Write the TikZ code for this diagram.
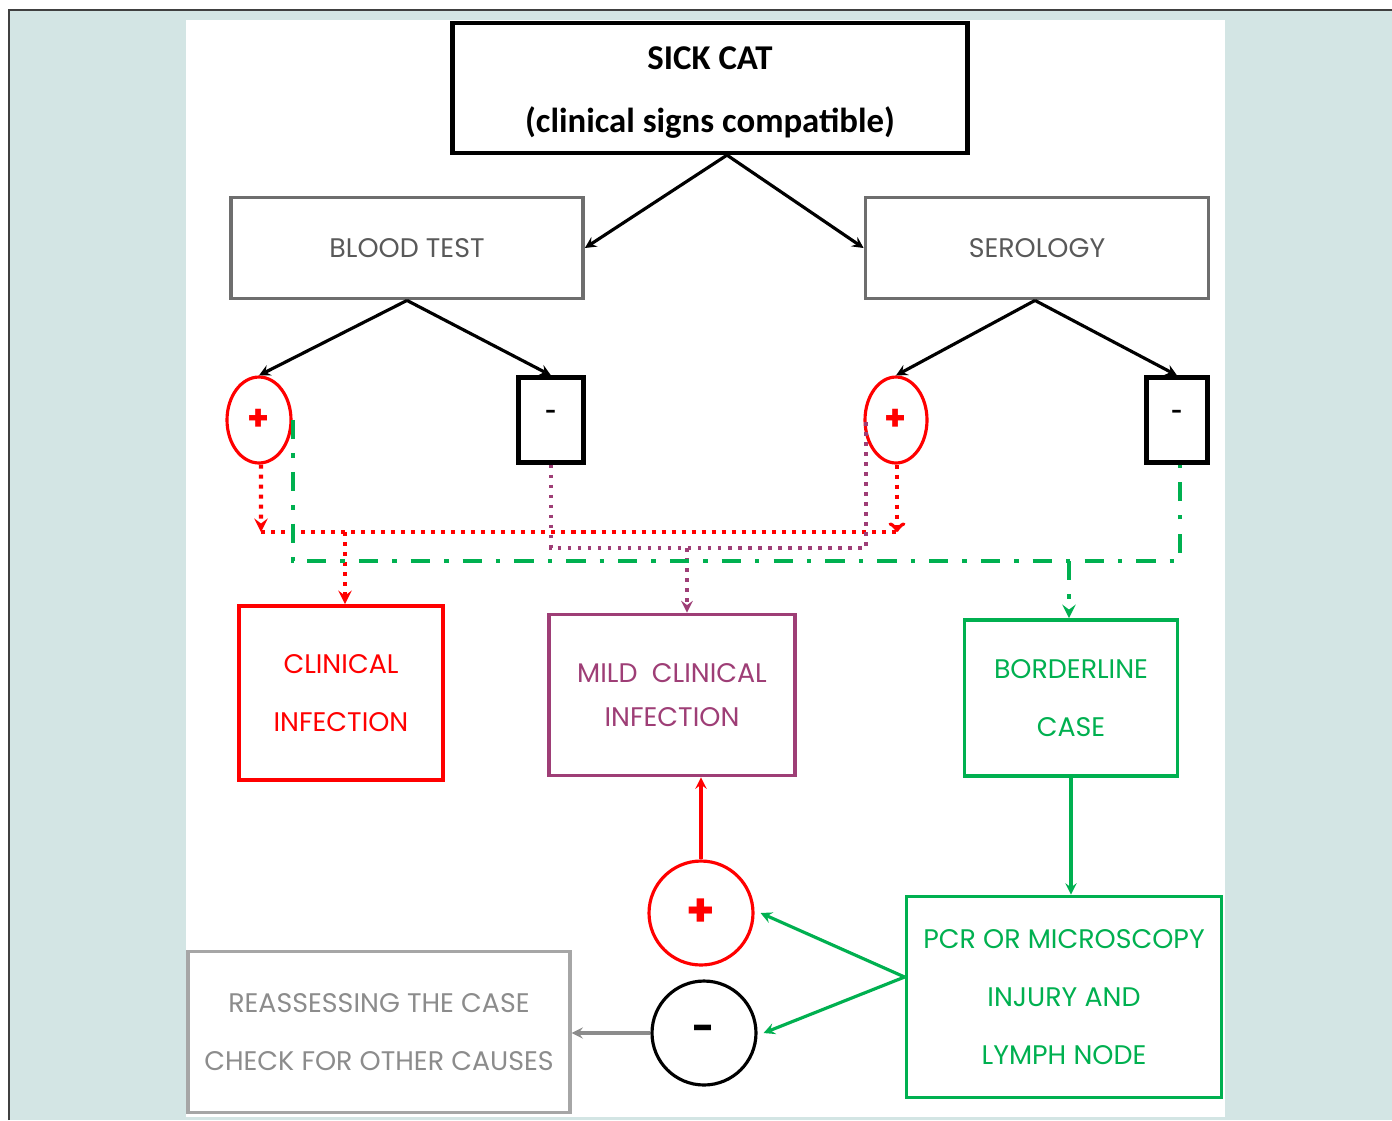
\documentclass[tikz,border=0pt]{standalone}
\usepackage{fontspec}
\setmainfont{Poppins}
\newfontfamily\titulofont{Carlito}
\usetikzlibrary{shapes.geometric}
\definecolor{fondo}{RGB}{211,229,228}
\definecolor{rojo}{RGB}{255,0,0}
\definecolor{verde}{RGB}{0,176,80}
\definecolor{morado}{RGB}{158,62,118}
\definecolor{grisA}{RGB}{110,110,110}
\definecolor{grisT}{RGB}{89,89,89}
\definecolor{grisB}{RGB}{166,166,166}
\definecolor{grisC}{RGB}{140,140,140}

\begin{document}
\begin{tikzpicture}[x=0.02cm, y=-0.02cm,
    caja/.style={draw, rectangle, inner sep=0pt, align=center, line width=2.2pt},
    texto/.style={font=\fontsize{15.3}{33}\selectfont},
    flecha/.style={-stealth, line width=1.8pt},
    rojopunt/.style={rojo, line width=2.3pt, dash pattern=on 2.3pt off 3.4pt},
    moradopunt/.style={morado, line width=1.9pt, dash pattern=on 2pt off 3.7pt},
    verdedd/.style={verde, line width=2.3pt, dash pattern=on 11pt off 8pt on 2.5pt off 8pt}]
        \useasboundingbox (0,0) rectangle (1392,1120);
        % Fondo
        \fill[white] (0,0) rectangle (1392,1120);
        \fill[fondo] (9,10) rectangle (1392,1120);
        \draw[black!75, line width=1.2pt] (9,1120) -- (9,10) -- (1392,10);
        \fill[white] (186,20) rectangle (1225,1117);

        % Título
        \node[caja, line width=2.4pt, minimum width=10.3cm, minimum height=2.6cm,
              font=\titulofont\bfseries\fontsize{19.8}{36}\selectfont] (gato) at (710,88)
              {\rule{0pt}{18.5pt}SICK CAT\\(clinical signs compatible)};

        % Pruebas
        \node[caja, grisA, text=grisT, texto, minimum width=7.04cm, minimum height=2.02cm] (sangre) at (407,248) {BLOOD TEST};
        \node[caja, grisA, text=grisT, texto, minimum width=6.86cm, minimum height=2.02cm] (sero) at (1037,248) {SEROLOGY};
        \draw[flecha] ([xshift=0.34cm]gato.south) -- (sangre.east);
        \draw[flecha] ([xshift=0.34cm]gato.south) -- (sero.west);

        % Resultados
        \node[draw=rojo, ellipse, line width=1.8pt, inner sep=0pt, minimum width=1.28cm, minimum height=1.72cm,
              text=rojo, font=\bfseries\fontsize{20}{20}\selectfont] (mas1) at (259,420) {+};
        \node[caja, line width=2.4pt, minimum width=1.3cm, minimum height=1.7cm,
              font=\bfseries\fontsize{11}{11}\selectfont] (menos1) at (551,420) {\raisebox{6.8pt}{-}};
        \node[draw=rojo, ellipse, line width=1.8pt, inner sep=0pt, minimum width=1.24cm, minimum height=1.72cm,
              text=rojo, font=\bfseries\fontsize{20}{20}\selectfont] (mas2) at (896,420) {+};
        \node[caja, line width=2.4pt, minimum width=1.22cm, minimum height=1.7cm,
              font=\bfseries\fontsize{11}{11}\selectfont] (menos2) at (1177,420) {\raisebox{6.8pt}{-}};
        \draw[flecha] (sangre.south) -- (mas1.north);
        \draw[flecha] (sangre.south) -- (menos1.north);
        \draw[flecha] ([xshift=-0.04cm]sero.south) -- (mas2.north);
        \draw[flecha] ([xshift=-0.04cm]sero.south) -- (menos2.north);

        % Diagnósticos
        \node[caja, rojo, texto, minimum width=4.08cm, minimum height=3.48cm] (clin) at (341,693) {CLINICAL\\INFECTION};
        \node[caja, morado, minimum width=4.92cm, minimum height=3.22cm,
              font=\fontsize{15.3}{25.5}\selectfont] (leve) at (672,695) {MILD\ \ CLINICAL\\INFECTION};
        \node[caja, verde, texto, minimum width=4.26cm, minimum height=3.12cm] (borde) at (1071,698) {BORDERLINE\\CASE};

        % Líneas punteadas
        \coordinate (rojoL) at (261,532);
        \coordinate (rojoR) at (897,532);
        \coordinate (moradoJ) at (866,548);
        \coordinate (moradoB) at (687,548);
        \coordinate (verdeJ) at (700,561);
        \coordinate (verdeB) at (1069,561);
        \draw[rojopunt] (rojoL) -- (rojoR);
        \draw[rojopunt, -stealth] ([xshift=0.04cm]mas1.south) -- (rojoL);
        \draw[rojopunt, ->] ([xshift=0.02cm]mas2.south) -- (rojoR);
        \draw[rojopunt, -stealth] ([xshift=0.08cm]clin.north |- rojoL) -- ([xshift=0.08cm]clin.north);
        \draw[moradopunt] (menos1.south) |- (moradoJ) |- (mas2.west);
        \draw[moradopunt, -stealth] (moradoB) -- (moradoB |- leve.north);
        \draw[verdedd] (mas1.east) |- (verdeJ) -| ([xshift=0.06cm]menos2.south);
        \draw[verdedd, -stealth] (verdeB) -- (verdeB |- borde.north);

        % PCR
        \node[caja, verde, texto, minimum width=6.3cm, minimum height=4.02cm] (pcr) at (1064,997)
              {PCR OR MICROSCOPY\\INJURY AND\\LYMPH NODE};
        \draw[flecha, verde] (borde.south) -- (borde.south |- pcr.north);

        \node[draw=rojo, circle, line width=1.8pt, minimum size=2.08cm, inner sep=0pt,
              text=rojo, font=\bfseries\fontsize{26}{26}\selectfont] (masG) at (701,913) {+};
        \node[draw, circle, line width=1.8pt, minimum size=2.08cm, inner sep=0pt,
              font=\bfseries\fontsize{22}{22}\selectfont] (menosG) at (704,1033) {-};
        \draw[flecha, verde] ([yshift=0.4cm]pcr.west) -- ([xshift=0.12cm]masG.east);
        \draw[flecha, verde] ([yshift=0.4cm]pcr.west) -- ([xshift=0.12cm]menosG.east);
        \draw[flecha, rojo] (masG.north) -- (masG.north |- leve.south);

        % Reevaluar
        \node[caja, grisB, text=grisC, texto, line width=1.8pt, minimum width=7.64cm, minimum height=3.22cm] (reval) at (379,1032)
              {REASSESSING THE CASE\\CHECK FOR OTHER CAUSES};
        \draw[flecha, grisC] (menosG.west) -- (menosG.west -| reval.east);
\end{tikzpicture}
\end{document}
